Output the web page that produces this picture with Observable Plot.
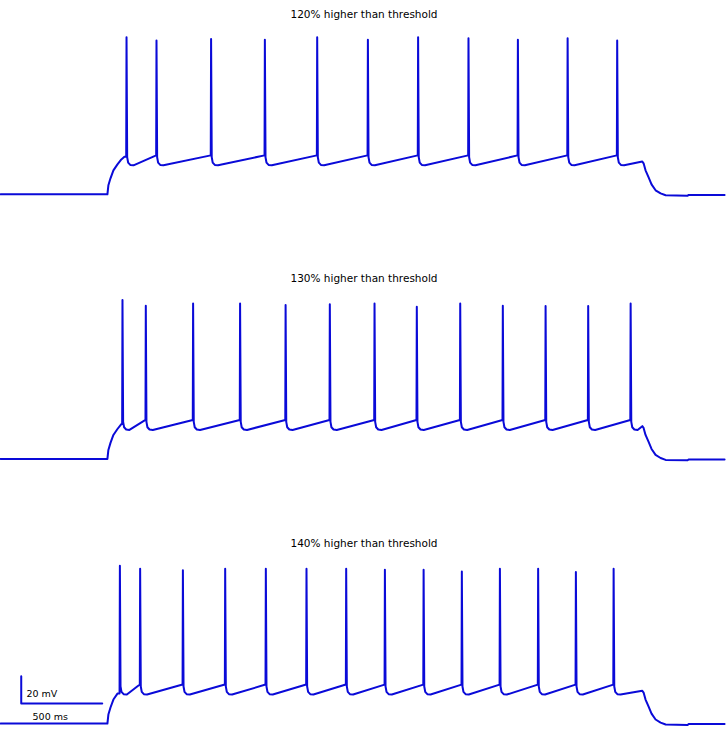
<!DOCTYPE html>
<html><head><meta charset="utf-8">
<script src="https://cdn.jsdelivr.net/npm/d3@7"></script>
<script src="https://cdn.jsdelivr.net/npm/@observablehq/plot@0.6"></script>
<style>body{margin:0;background:#fff}#chart{width:727px;height:729px}</style>
</head><body><div id="chart"></div>
<script>
// Panel titles
const panels = ["120% higher than threshold", "130% higher than threshold", "140% higher than threshold"];

// Spike times (ms) and peak voltages (mV)
const spikeTimes1 = [776, 961, 1298, 1630, 1953, 2266, 2576, 2887, 3192, 3499, 3805];
const spikePeaks1 = [46.5, 44.1, 45.2, 44.6, 46.5, 44.6, 46.5, 45.8, 44.6, 45.8, 44.1];
const spikeTimes2 = [751, 895, 1187, 1477, 1758, 2031, 2307, 2568, 2836, 3099, 3363, 3626, 3888];
const spikePeaks2 = [47.8, 43.6, 45.3, 45.3, 44.1, 44.6, 45.3, 42.8, 45.3, 43.6, 43.3, 43.3, 45.3];
const spikeTimes3 = [735, 860, 1124, 1385, 1636, 1887, 2132, 2371, 2610, 2846, 3081, 3317, 3550, 3783];
const spikePeaks3 = [47.0, 44.8, 43.6, 44.8, 44.8, 44.8, 44.8, 44.1, 44.1, 42.8, 44.8, 44.8, 42.4, 44.8];

// Shared levels (mV) and times (ms)
const restV = -70;
const restEndV = -70.4;
const preSpikeV = -41.1;
const stimOnset = 660;
const stimOffset = 3962;
const traceEnd = 4470;

// Onset rise: [ms after onset, mV]
const onsetCurve = [[0, -70], [6, -63.3], [19, -58.1], [37, -52.2], [62, -47.8], [86, -44.1], [105, -42.2]];
// Spike fall / afterhyperpolarisation: [ms after spike, mV]
const ahpCurve = [[6, -42.5], [12, -46.5], [25, -48.2], [45, -48.5]];
// Offset decay: [ms after offset, mV]
const offsetCurve = [[0, -45.7], [8, -47.0], [20, -52.2], [39, -57.4], [57, -62.6], [82, -67.0], [113, -69.3], [144, -70.7], [280, -71.0], [286, -70.4]];

// Scale bar (500 ms, 20 mV) in data units
const scaleBarX = [128, 128, 628];
const scaleBarY = [-35.0, -55.2, -55.2];
const scaleLabels = ["20 mV", "500 ms"];
const scaleLabelX = [160, 198];
const scaleLabelY = [-50, -67];

function buildTrace(panel, times, peaks) {
  const pts = [{panel, t: 0, v: restV}];
  for (const [dt, v] of onsetCurve) if (stimOnset + dt < times[0]) pts.push({panel, t: stimOnset + dt, v});
  times.forEach((ts, i) => {
    pts.push({panel, t: ts, v: i === 0 ? pts[pts.length - 1].v : preSpikeV});
    pts.push({panel, t: ts + 2, v: peaks[i]});
    for (const [dt, v] of ahpCurve) pts.push({panel, t: ts + dt, v});
  });
  for (const [dt, v] of offsetCurve) pts.push({panel, t: stimOffset + dt, v});
  pts.push({panel, t: traceEnd, v: restEndV});
  return pts;
}

const trace = [
  ...buildTrace(panels[0], spikeTimes1, spikePeaks1),
  ...buildTrace(panels[1], spikeTimes2, spikePeaks2),
  ...buildTrace(panels[2], spikeTimes3, spikePeaks3)
];
const scaleBar = scaleBarX.map((t, i) => ({panel: panels[2], t, v: scaleBarY[i]}));
const scaleText = scaleLabels.map((s, i) => ({panel: panels[2], t: scaleLabelX[i], v: scaleLabelY[i], s}));

const blue = "#0a0ad8";
const chart = Plot.plot({
  width: 727, height: 729, margin: 0,
  x: {domain: [0, 4488], axis: null},
  y: {domain: [-74.4, 73.7], axis: null},
  fy: {domain: panels, axis: null, paddingInner: 0.245, paddingOuter: 0, round: false},
  style: {fontFamily: "DejaVu Sans", background: "white"},
  marks: [
    Plot.line(trace, {x: "t", y: "v", fy: "panel", z: "panel", stroke: blue, strokeWidth: 2, strokeLinejoin: "round"}),
    Plot.text(panels, {fy: d => d, text: d => d, frameAnchor: "top", dy: 17, lineAnchor: "bottom", fontSize: 10.5, fill: "black"}),
    Plot.line(scaleBar, {x: "t", y: "v", fy: "panel", stroke: blue, strokeWidth: 2}),
    Plot.text(scaleText, {x: "t", y: "v", fy: "panel", text: "s", textAnchor: "start", lineAnchor: "bottom", fontSize: 9.5, fill: "black"})
  ]
});
document.getElementById("chart").append(chart);
</script>
</body></html>
